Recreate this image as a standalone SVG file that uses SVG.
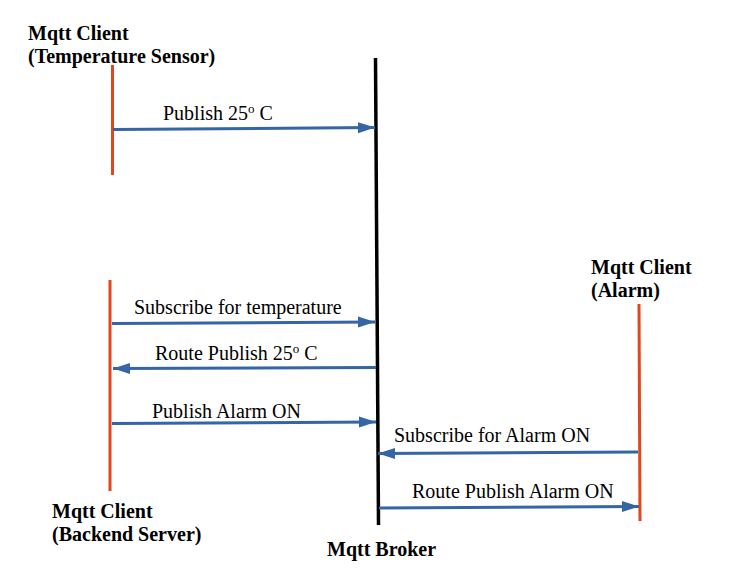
<svg xmlns="http://www.w3.org/2000/svg" width="732" height="583" viewBox="0 0 732 583">
<defs>
<style>
.bg{fill:#ffffff}
.life{stroke:#E2461C;stroke-width:3;fill:none}
.broker{stroke:#000000;stroke-width:3.5;fill:none}
.msg{stroke:#3465A4;stroke-width:3;fill:none;marker-end:url(#ah)}
.lbl{font-family:"Liberation Serif","Times New Roman",serif;font-size:20px;fill:#000}
.title{font-family:"Liberation Serif","Times New Roman",serif;font-size:20px;font-weight:bold;fill:#000}
.sup{font-size:13px}
</style>
<marker id="ah" markerUnits="userSpaceOnUse" markerWidth="18" markerHeight="12" refX="17" refY="6" orient="auto">
<path d="M0,0.5 L17,6 L0,11.5 z" fill="#3465A4"/>
</marker>
</defs>
<rect class="bg" x="0" y="0" width="732" height="583"/>

<g id="temp-sensor">
<text class="title" x="28" y="40">Mqtt Client</text>
<text class="title" x="28" y="63">(Temperature Sensor)</text>
<line class="life" x1="112.5" y1="65" x2="112.5" y2="175"/>
</g>

<g id="broker">
<line class="broker" x1="375.5" y1="58" x2="378.5" y2="525"/>
<text class="title" x="327" y="556">Mqtt Broker</text>
</g>

<g id="backend">
<line class="life" x1="110" y1="280" x2="110" y2="491"/>
<text class="title" x="52" y="518">Mqtt Client</text>
<text class="title" x="52" y="541">(Backend Server)</text>
</g>

<g id="alarm">
<text class="title" x="591" y="274">Mqtt Client</text>
<text class="title" x="591" y="297">(Alarm)</text>
<line class="life" x1="639" y1="304" x2="640" y2="521"/>
</g>

<g id="connectors">
<line class="msg" x1="113" y1="129.5" x2="375" y2="127.5"/>
<line class="msg" x1="112" y1="323.5" x2="375" y2="322"/>
<line class="msg" x1="376" y1="367.5" x2="113" y2="368.5"/>
<line class="msg" x1="112" y1="423.5" x2="376" y2="422"/>
<line class="msg" x1="638" y1="452" x2="378" y2="453.5"/>
<line class="msg" x1="379" y1="508" x2="639" y2="506.5"/>
</g>

<g id="labels">
<text class="lbl" x="163" y="120">Publish 25<tspan class="sup" dy="-7">o</tspan><tspan dy="7"> C</tspan></text>
<text class="lbl" x="134" y="314">Subscribe for temperature</text>
<text class="lbl" x="155" y="360">Route Publish 25<tspan class="sup" dy="-7">o</tspan><tspan dy="7"> C</tspan></text>
<text class="lbl" x="152" y="418">Publish Alarm ON</text>
<text class="lbl" x="394" y="442">Subscribe for Alarm ON</text>
<text class="lbl" x="412" y="498">Route Publish Alarm ON</text>
</g>
</svg>
